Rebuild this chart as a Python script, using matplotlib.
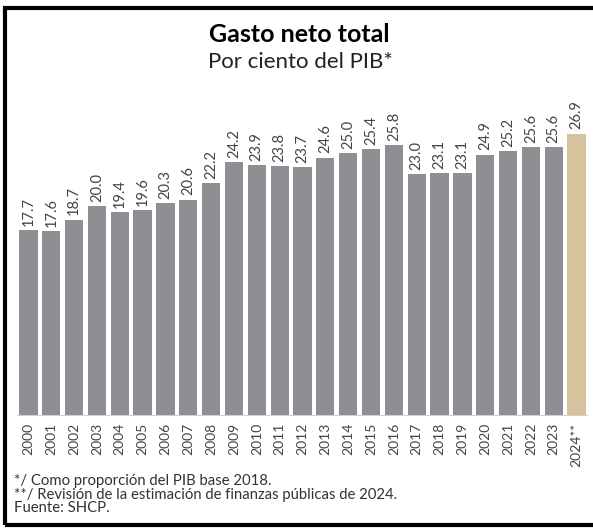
import matplotlib
matplotlib.use("Agg")
import matplotlib.pyplot as plt
from matplotlib.patches import Rectangle

years = ["2000","2001","2002","2003","2004","2005","2006","2007","2008","2009",
         "2010","2011","2012","2013","2014","2015","2016","2017","2018","2019",
         "2020","2021","2022","2023","2024**"]
values = [17.7,17.6,18.7,20.0,19.4,19.6,20.3,20.6,22.2,24.2,
          23.9,23.8,23.7,24.6,25.0,25.4,25.8,23.0,23.1,23.1,
          24.9,25.2,25.6,25.6,26.9]
title = "Gasto neto total"
subtitle = "Por ciento del PIB*"
notes = ["*/ Como proporción del PIB base 2018.",
         "**/ Revisión de la estimación de finanzas públicas de 2024.",
         "Fuente: SHCP."]

gray = "#8f8e93"
tan = "#d6c29d"
colors = [gray] * (len(values) - 1) + [tan]

plt.rcParams['font.family'] = ['Lato', 'DejaVu Sans']

fig = plt.figure(figsize=(5.93, 5.29), dpi=100)
ax = fig.add_axes([17/593, (529-416)/529, 571/593, 316/529])
x = list(range(len(values)))
ax.bar(x, values, width=0.8, color=colors, zorder=2)
ax.set_xlim(-0.5, len(values) - 0.5)
ax.set_ylim(0, 316/10.5)
ax.axhline(0, color="#d0d0d0", lw=1.5, zorder=3)
for xi, v in zip(x, values):
    ax.text(xi, v + 0.4, f"{v:.1f}", rotation=90, ha="center", va="bottom",
            fontsize=10.5, color="#444444")
ax.set_xticks(x)
ax.set_xticklabels(years, rotation=90, fontsize=10, color="#444444", va="top")
ax.tick_params(axis="x", length=0, pad=5)
ax.set_yticks([])
for s in ax.spines.values():
    s.set_visible(False)

fig.text(0.505, 1 - 35/529, title, ha="center", va="center", fontsize=18,
         fontweight="bold", color="black")
fig.text(0.507, 1 - 62/529, subtitle, ha="center", va="center", fontsize=16,
         color="#222222")
for i, n in enumerate(notes):
    fig.text(14/593, 1 - (481 + i*13.5)/529, n, ha="left", va="center",
             fontsize=10.7, color="#333333")

fig.patches.append(Rectangle((5/593, 4/529), 600/593, 521/529 - 4/529,
                             transform=fig.transFigure, fill=False,
                             edgecolor="black", lw=3))
fig.savefig("out.png", dpi=100)
